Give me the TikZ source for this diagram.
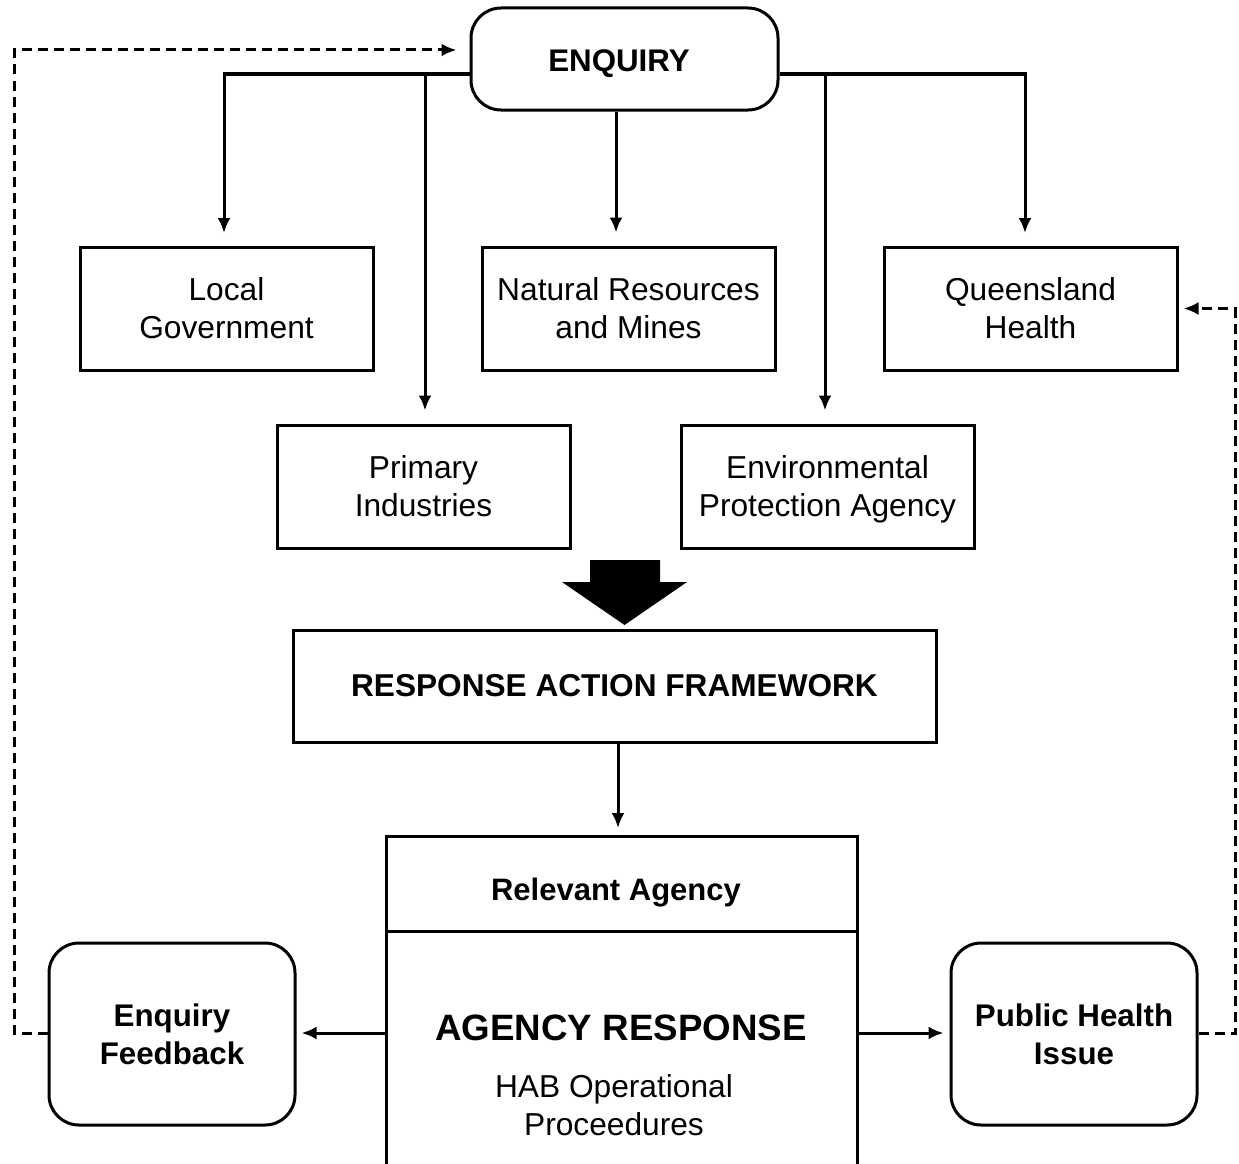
\documentclass[tikz,border=0pt]{standalone}
\usepackage{fontspec}
\setmainfont{Liberation Sans}
\usetikzlibrary{arrows.meta,calc}
\begin{document}
\begin{tikzpicture}[x=1pt,y=-1pt,
  lw/.style={line width=3pt},
  box/.style={draw,lw,rectangle,minimum width=293pt,minimum height=123pt,align=center,inner sep=0pt,text depth=0pt,font=\fontsize{31.7}{38}\selectfont},
  rbox/.style={draw,lw,rectangle,rounded corners=30pt,align=center,inner sep=0pt,font=\bfseries\fontsize{31.3}{38}\selectfont},
  arr/.style={lw,-{Latex[length=15pt,width=13pt]}},
  darr/.style={lw,dash pattern=on 10pt off 6pt,-{Latex[length=15pt,width=13pt]}},
]
\useasboundingbox (0,0) rectangle (1239,1164);
% top
\node[rbox,minimum width=307pt,minimum height=102pt] (enq) at (624.5,59) {};
\node[font=\bfseries\fontsize{31.3}{38}\selectfont] (enqt) at (619,64) {ENQUIRY};
\node[box] (lg) at (226.5,308.5) {Local\\Government};
\node[box] (nrm) at (628.5,308.5) {Natural Resources\\and Mines};
\node[box] (qh) at (1030.5,308.5) {Queensland\\Health};
\node[box] (pi) at (423.5,486.5) {Primary\\Industries};
\node[box] (epa) at (827.5,486.5) {Environmental\\Protection Agency};
\coordinate (enqL) at ([yshift=-15pt]enq.west);
\coordinate (enqR) at ([yshift=-15pt]enq.east);
\draw[arr,shorten >=14pt] (enqL) -| (224,247);
\draw[arr,shorten >=13pt] (425,74) -- (pi.north -| 425,0);
\draw[arr,shorten >=13pt] (enq.south -| 616,0) -- (nrm.north -| 616,0);
\draw[arr,shorten >=14pt] (enqR) -| (1025,247);
\draw[arr,shorten >=13pt] (825,74) -- (epa.north -| 825,0);
% block arrow
\fill (590,560) -- (660,560) -- (660,582) -- (687,582) -- (624.5,625) -- (562,582) -- (590,582) -- cycle;
% RAF
\node[draw,lw,minimum width=643pt,minimum height=112pt,inner sep=0pt,font=\bfseries\fontsize{31.6}{38}\selectfont] (raf) at (614.5,686) {RESPONSE ACTION FRAMEWORK};
% agency
\node[draw,lw,outer sep=0pt,minimum width=471pt,minimum height=95pt,inner sep=0pt] (rel) at (621.5,883.5) {};
\node[font=\bfseries\fontsize{31}{38}\selectfont] (relt) at (616,893) {Relevant Agency};
\draw[lw] (rel.south west) -- ++(0,240);
\draw[lw] (rel.south east) -- ++(0,240);
\coordinate (agL) at (386,1033);
\coordinate (agR) at (857,1033);
\node[font=\bfseries\fontsize{36.7}{44}\selectfont] (ar) at (621,1028) {AGENCY RESPONSE};
\node[align=center,font=\fontsize{31.7}{38}\selectfont] (hab) at (614,1105) {HAB Operational\\Proceedures};
\draw[arr,shorten >=8pt] (raf.south -| 618,0) -- (rel.north -| 618,0);
% bottom side boxes
\node[rbox,minimum width=246pt,minimum height=182pt] (fb) at (172,1034) {Enquiry\\Feedback};
\node[rbox,minimum width=246pt,minimum height=182pt] (ph) at (1074,1034) {Public Health\\Issue};
\draw[arr,shorten >=5pt] (agL) -- (fb.east |- agL);
\draw[arr,shorten >=6pt] (agR) -- (ph.west |- agR);
% dashed feedback
\draw[darr,shorten >=13pt] (fb.west |- agL) -- (14,1033) |- ([yshift=9pt]enq.west);
\draw[darr,shorten >=5pt] (ph.east |- agR) -- (1235,1033) |- (qh.east);
\end{tikzpicture}
\end{document}
